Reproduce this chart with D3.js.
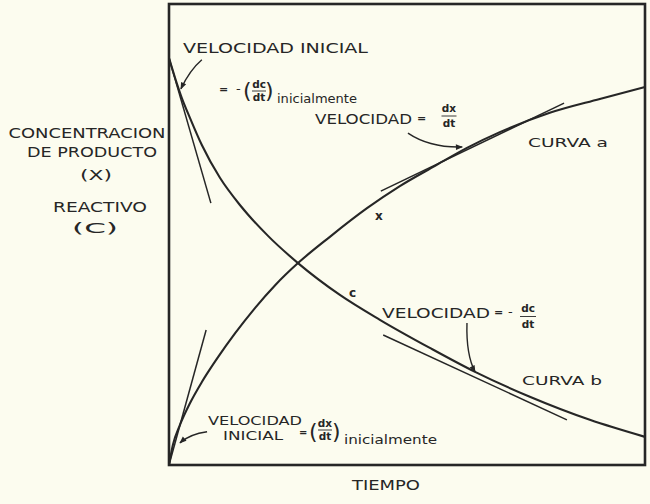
<!DOCTYPE html>
<html><head><meta charset="utf-8">
<script src="https://cdn.jsdelivr.net/npm/d3@7"></script>
<style>html,body{margin:0;padding:0;background:#fcfcef;} svg{display:block}</style>
</head><body><svg id="c" width="650" height="504"></svg>
<script>
// ---- data (time and concentration in arbitrary units 0..100) ----
const timeDomain = [0, 100];
const concDomain = [0, 100];
// curva a : product concentration x
const curveATime   = [0, 0.8, 2.3, 4.4, 6.9, 10.3, 13.9, 18.1, 22.3, 27.1, 33.8, 41.6, 48.5, 55.9, 62.6, 69.5, 80.0, 90.5, 100];
const curveAValues = [0, 4.3, 8.7, 13.4, 18.0, 23.4, 28.6, 34.1, 39.0, 43.8, 49.5, 55.7, 60.5, 64.9, 68.8, 72.2, 76.4, 79.4, 82.0];
// curva b : reactant concentration c
const curveBTime   = [0, 1.3, 2.7, 4.4, 6.9, 10.7, 14.9, 20.8, 27.1, 35.9, 44.3, 54.8, 64.3, 75.8, 88.4, 100];
const curveBValues = [88.3, 83.9, 79.6, 75.3, 69.4, 62.3, 56.4, 49.7, 43.8, 36.9, 31.5, 25.4, 20.2, 14.8, 9.8, 6.1];
// tangent lines [t0, v0, t1, v1]
const tangentLines = [[0, 88.3, 8.8, 56.8], [0, 0, 7.8, 29.3], [44.5, 59.4, 83.0, 78.5], [45.0, 28.2, 83.6, 9.8]];
// annotation arrows [start, control, end] as [t, v]
const arrowPaths = [
  [[6.9, 87.9], [4.4, 85.7], [2.5, 81.6]],
  [[50.2, 72.0], [54.8, 68.8], [61.6, 69.0]],
  [[62.6, 30.8], [62.4, 23.9], [64.3, 20.2]],
  [[8.0, 7.2], [4.4, 6.7], [2.3, 4.8]]
];
const xAxisTitle = "TIEMPO";
const yAxisTitle = ["CONCENTRACION", "DE PRODUCTO", "(X)", "REACTIVO", "(C)"];

// ---- drawing ----
const ink = "#262626";
const font = "'DejaVu Sans', sans-serif";
const svg = d3.select("#c");
svg.append("rect").attr("width", 650).attr("height", 504).attr("fill", "#fcfcef");

const x = d3.scaleLinear().domain(timeDomain).range([169, 645]);
const y = d3.scaleLinear().domain(concDomain).range([465, 4]);

svg.append("defs").append("marker")
  .attr("id", "ah").attr("viewBox", "0 0 10 10").attr("refX", 9).attr("refY", 5)
  .attr("markerWidth", 9).attr("markerHeight", 7).attr("markerUnits", "userSpaceOnUse")
  .attr("orient", "auto")
  .append("path").attr("d", "M0,1 L10,5 L0,9 z").attr("fill", ink);

// frame
svg.append("rect")
  .attr("x", x(timeDomain[0])).attr("y", y(concDomain[1]))
  .attr("width", x(timeDomain[1]) - x(timeDomain[0]))
  .attr("height", y(concDomain[0]) - y(concDomain[1]))
  .attr("fill", "none").attr("stroke", ink).attr("stroke-width", 2.6);

const line = d3.line().x(d => x(d[0])).y(d => y(d[1])).curve(d3.curveMonotoneX);
const curveA = curveATime.map((t, i) => [t, curveAValues[i]]);
const curveB = curveBTime.map((t, i) => [t, curveBValues[i]]);
[curveA, curveB].forEach(c => {
  svg.append("path").attr("d", line(c)).attr("fill", "none")
    .attr("stroke", ink).attr("stroke-width", 2.1);
});

tangentLines.forEach(t => {
  svg.append("line").attr("x1", x(t[0])).attr("y1", y(t[1]))
    .attr("x2", x(t[2])).attr("y2", y(t[3]))
    .attr("stroke", ink).attr("stroke-width", 1.5);
});

arrowPaths.forEach(a => {
  const p = d3.path();
  p.moveTo(x(a[0][0]), y(a[0][1]));
  p.quadraticCurveTo(x(a[1][0]), y(a[1][1]), x(a[2][0]), y(a[2][1]));
  svg.append("path").attr("d", p.toString()).attr("fill", "none")
    .attr("stroke", ink).attr("stroke-width", 1.4).attr("marker-end", "url(#ah)");
});

// text helper
function txt(s, px, py, size, opts = {}) {
  const t = svg.append("text").attr("x", px).attr("y", py).text(s)
    .attr("font-family", font).attr("font-size", size).attr("fill", ink)
    .attr("text-anchor", opts.anchor || "start");
  if (opts.len) t.attr("textLength", opts.len).attr("lengthAdjust", "spacingAndGlyphs");
  if (opts.weight) t.attr("font-weight", opts.weight);
  return t;
}
function frac(num, den, cx, yNum, yDen, w) {
  txt(num, cx, yNum, 10.5, {anchor: "middle", weight: "bold"});
  svg.append("line").attr("x1", cx - w / 2).attr("x2", cx + w / 2)
    .attr("y1", (yNum + yDen) / 2 - 3.5).attr("y2", (yNum + yDen) / 2 - 3.5)
    .attr("stroke", ink).attr("stroke-width", 0.9);
  txt(den, cx, yDen, 10.5, {anchor: "middle", weight: "bold"});
}

// top-left annotation
txt("VELOCIDAD INICIAL", 183, 53, 14, {len: 185});
txt("=", 219, 93, 11, {weight: "bold"});
txt("-", 236, 93, 13);
txt("(", 243, 98, 22);
frac("dc", "dt", 259, 88, 101, 14);
txt(")", 265, 98, 22);
txt("inicialmente", 277, 103, 12, {len: 80});

// velocidad dx/dt
txt("VELOCIDAD", 315, 124, 14, {len: 97});
txt("=", 417, 122, 11, {weight: "bold"});
frac("dx", "dt", 449, 112, 127, 15);
txt("CURVA a", 528, 147, 13, {len: 80});
txt("x", 375, 220, 12, {weight: "bold"});
txt("c", 349, 297, 12, {weight: "bold"});

// velocidad -dc/dt
txt("VELOCIDAD", 382, 318, 14, {len: 108});
txt("=", 494, 316, 11, {weight: "bold"});
txt("-", 508, 316, 13);
frac("dc", "dt", 528, 312, 328, 16);
txt("CURVA b", 522, 385, 13, {len: 80});

// bottom annotation
txt("VELOCIDAD", 208, 425, 12.5, {len: 94});
txt("INICIAL", 223, 440, 12.5, {len: 60});
txt("=", 299, 436, 10, {weight: "bold"});
txt("(", 309, 439, 22);
frac("dx", "dt", 325, 427, 440, 14);
txt(")", 332, 439, 22);
txt("inicialmente", 344, 444, 12, {len: 93});

// axis titles
txt(xAxisTitle, 386, 490, 13.5, {anchor: "middle", len: 68});
const yLab = [[yAxisTitle[0], 87, 138, 157], [yAxisTitle[1], 92, 157, 130], [yAxisTitle[2], 96, 180, 32],
              [yAxisTitle[3], 100, 212, 94], [yAxisTitle[4], 95, 233, 46]];
yLab.forEach(l => txt(l[0], l[1], l[2], 13.5, {anchor: "middle", len: l[3]}));
</script></body></html>
